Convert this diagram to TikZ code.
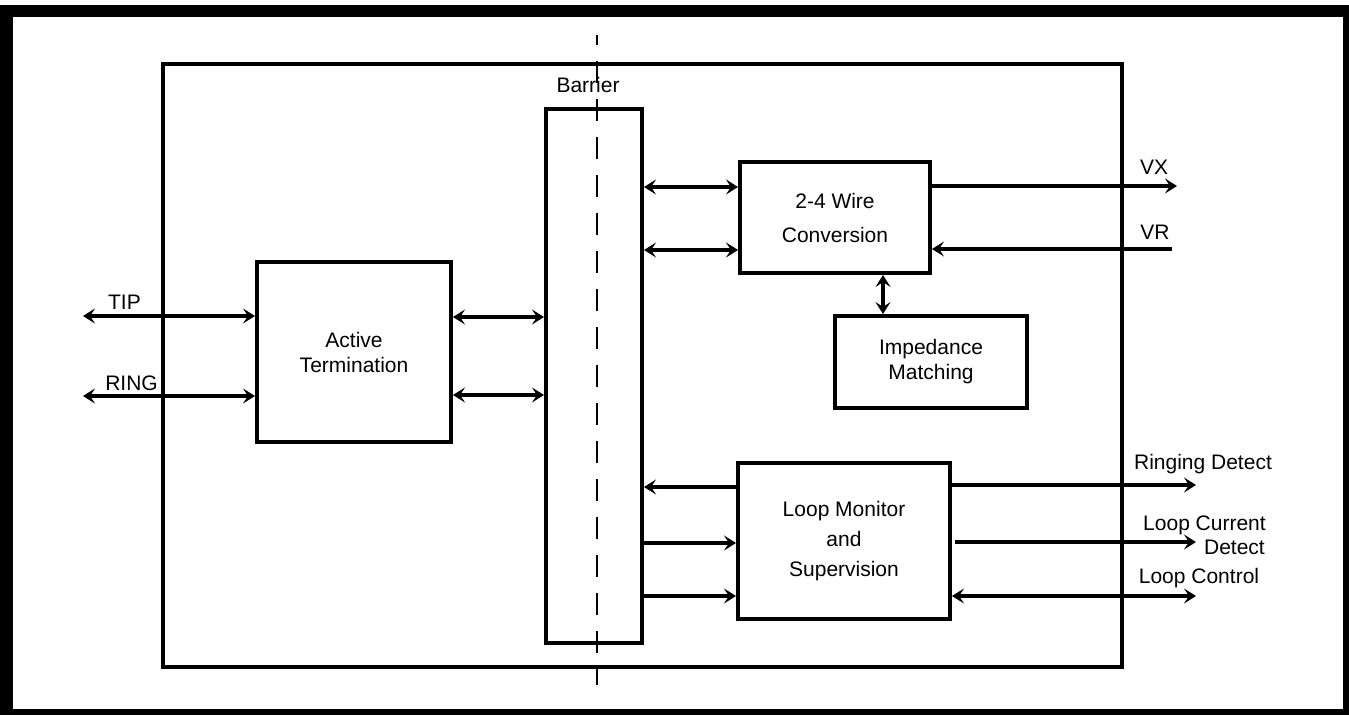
\documentclass[tikz,border=0pt]{standalone}
\usepackage{fontspec}
\setmainfont{Liberation Sans}
\usetikzlibrary{arrows.meta}
\begin{document}
\begin{tikzpicture}[x=1pt,y=-1pt,
  txt/.style={font=\fontsize{21}{25}\selectfont, inner sep=0pt},
  box/.style={draw, line width=4pt, inner sep=0pt, align=center, font=\fontsize{21}{25}\selectfont},
  tip/.tip={Stealth[length=12pt,width=15pt,inset=5pt]},
  con/.style={line width=4pt, -tip},
  dbl/.style={line width=4pt, tip-tip},
  lbl/.style={txt, anchor=base}]
\useasboundingbox (0,0) rectangle (1349,715);
% outer frame
\fill[black] (0,5) rectangle (1349,715);
\fill[white] (13,17) rectangle (1343,709);
% inner box
\node[draw, line width=4pt, minimum width=959, minimum height=603, inner sep=0pt] (outer) at (642.5,365.5) {};
% blocks
\node[box, minimum width=194, minimum height=180] (at) at (354,352) {Active\\Termination};
\node[draw, line width=4pt, minimum width=96, minimum height=534, inner sep=0pt] (bar) at (594,376) {};
\node[box, minimum width=190, minimum height=111, font=\fontsize{21}{34}\selectfont] (wc) at (835,217.5) {2-4 Wire\\Conversion};
\node[box, minimum width=192, minimum height=92] (im) at (931,362) {Impedance\\Matching};
\node[box, minimum width=212, minimum height=156, font=\fontsize{21}{30}\selectfont] (lm) at (844,541) {Loop Monitor\\and\\Supervision};
% barrier dashed line
\coordinate (dtop) at (597,35);
\coordinate (dbot) at (597,685);
\draw[line width=1.5pt, dash pattern=on 22pt off 16pt, dash phase=12pt] (dtop) -- (dbot);
\node[lbl] (barlbl) at (588,92) {Barrier};
% TIP / RING
\coordinate (tipL) at (83,316);
\coordinate (ringL) at (83,396);
\draw[dbl] (tipL) -- (tipL -| at.west);
\draw[dbl] (ringL) -- (ringL -| at.west);
\node[lbl] (tiplbl) at (124.5,309) {TIP};
\node[lbl] (ringlbl) at (131.5,390) {RING};
% Active termination <-> barrier
\coordinate (a1) at (0,317);
\coordinate (a2) at (0,395);
\draw[dbl] (a1 -| at.east) -- (a1 -| bar.west);
\draw[dbl] (a2 -| at.east) -- (a2 -| bar.west);
% barrier <-> 2-4 wire
\coordinate (w1) at (0,187);
\coordinate (w2) at (0,250);
\draw[dbl] (w1 -| bar.east) -- (w1 -| wc.west);
\draw[dbl] (w2 -| bar.east) -- (w2 -| wc.west);
% 2-4 wire <-> impedance
\coordinate (wi) at (883,0);
\draw[dbl] (wi |- wc.south) -- (wi |- im.north);
% VX / VR
\coordinate (vxR) at (1177,186);
\coordinate (vrR) at (1172,249);
\draw[con] (vxR -| wc.east) -- (vxR);
\draw[con] (vrR) -- (vrR -| wc.east);
\node[lbl] (vxlbl) at (1154,174) {VX};
\node[lbl] (vrlbl) at (1155,239) {VR};
% barrier <-> loop monitor
\coordinate (l1) at (0,487);
\coordinate (l2) at (0,543);
\coordinate (l3) at (0,596);
\draw[con] (l1 -| lm.west) -- (l1 -| bar.east);
\draw[con] (l2 -| bar.east) -- (l2 -| lm.west);
\draw[con] (l3 -| bar.east) -- (l3 -| lm.west);
% outputs
\coordinate (rdR) at (1196,485);
\coordinate (lcR) at (1196,542);
\coordinate (lcS) at (955,542);
\coordinate (ctR) at (1196,596);
\draw[con] (rdR -| lm.east) -- (rdR);
\draw[con] (lcS) -- (lcR);
\draw[dbl] (ctR -| lm.east) -- (ctR);
\node[lbl] (rdlbl) at (1203,469) {Ringing Detect};
\node[lbl] (lclbl) at (1204.5,530) {Loop Current};
\node[txt, anchor=base east] (lclbl2) at (1265,554) {Detect};
\node[lbl] (ctlbl) at (1199,583) {Loop Control};
\end{tikzpicture}
\end{document}
